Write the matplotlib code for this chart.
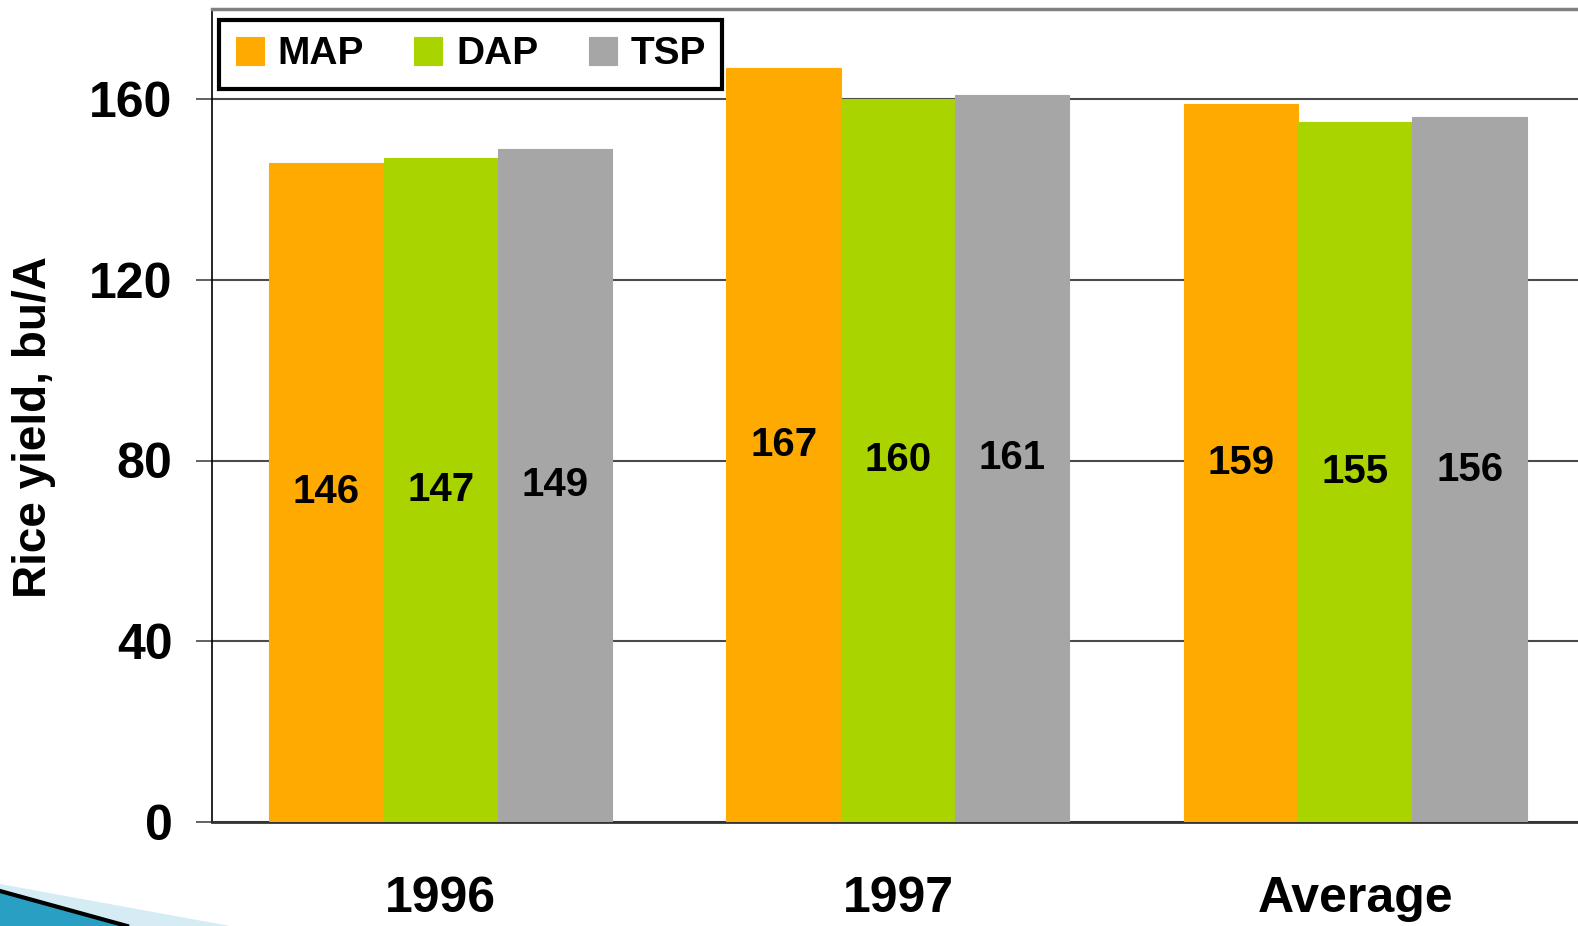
import matplotlib.pyplot as plt
import matplotlib.patches as mpatches
import numpy as np

# Данные с графика
years = ['1996', '1997', 'Average']
series = ['MAP', 'DAP', 'TSP']
map_vals = [146, 167, 159]
dap_vals = [147, 160, 155]
tsp_vals = [149, 161, 156]
colors = ['#FFAA00', '#AAD400', '#A6A6A6']
y_ticks = [0, 40, 80, 120, 160]

plt.rcParams['font.family'] = ['Liberation Sans', 'DejaVu Sans']

fig = plt.figure(figsize=(15.78, 9.26), dpi=100)
ax = fig.add_axes([212 / 1578, 104.3 / 926, 1372 / 1578, 812.7 / 926])

x = np.arange(len(years))
width = 0.25
for i, (name, vals) in enumerate(zip(series, [map_vals, dap_vals, tsp_vals])):
    bars = ax.bar(x + (i - 1) * width, vals, width, color=colors[i], edgecolor=colors[i],
                  linewidth=0.8, label=name, zorder=3)
    ax.bar_label(bars, label_type='center', fontsize=29, fontweight='bold', color='black')

ax.set_xlim(-0.5, 2.5)
ax.set_ylim(0, 180)
ax.set_yticks(y_ticks)
ax.set_xticks(x)
ax.set_xticklabels(years, fontsize=36, fontweight='bold')
for lab in ax.get_yticklabels():
    lab.set_fontsize(36)
    lab.set_fontweight('bold')

ax.tick_params(axis='y', length=11.5, width=1.3, color='#555555', pad=17)
ax.tick_params(axis='x', length=0, pad=39)

# сетка
ax.yaxis.grid(True, color='#4a4a4a', linewidth=1.5, zorder=0)
ax.set_axisbelow(True)

ax.spines['right'].set_visible(False)
ax.spines['top'].set_color('#808080')
ax.spines['top'].set_linewidth(2.5)
ax.spines['bottom'].set_color('#333333')
ax.spines['bottom'].set_linewidth(2)
ax.spines['left'].set_color('black')
ax.spines['left'].set_linewidth(1.2)

ax.set_ylabel('Rice yield, bu/A', fontsize=33, fontweight='bold')
ax.yaxis.set_label_coords(-0.114, 0.485)

leg = ax.legend(loc='upper left', bbox_to_anchor=(0.0054, 0.9863), ncol=3,
                prop={'weight': 'bold', 'size': 28},
                frameon=True, fancybox=False, borderaxespad=0,
                handlelength=0.72, handleheight=0.72, handletextpad=0.35,
                columnspacing=1.3, borderpad=0.42)
leg.get_frame().set_edgecolor('black')
leg.get_frame().set_linewidth(3)
leg.get_frame().set_alpha(1)

# декоративный элемент внизу слева
W, H = 1578, 926
band = mpatches.Polygon([(0, (H - 884) / H), (230 / W, 0), (0, 0)], closed=True,
                        transform=fig.transFigure, facecolor='#d6ecf5', edgecolor='none')
swoosh = mpatches.Polygon([(0, (H - 892) / H), (127 / W, 0), (0, 0)], closed=True,
                          transform=fig.transFigure, facecolor='#2a9fc4', edgecolor='none')
fig.patches.extend([band, swoosh])
fig.add_artist(plt.Line2D([0, 127 / W], [(H - 891) / H, 0], transform=fig.transFigure,
                          color='black', linewidth=3))

fig.savefig('out.png', dpi=100)
